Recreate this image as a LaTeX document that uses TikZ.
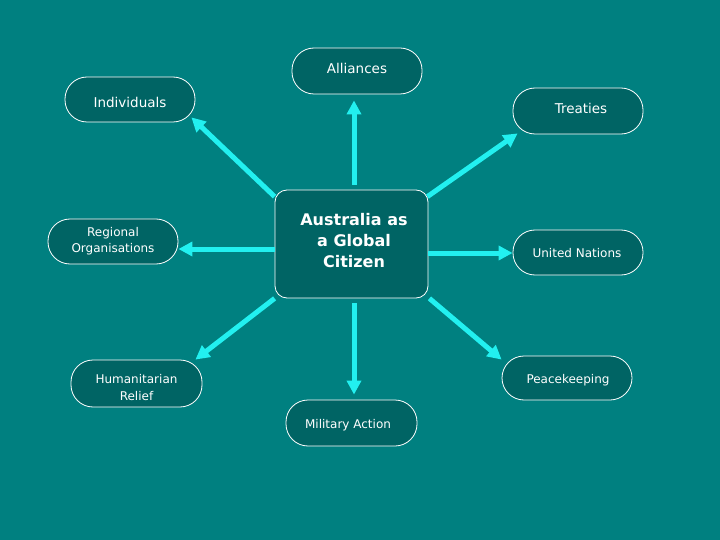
\documentclass[tikz,border=0pt]{standalone}
\usepackage{fontspec}
\setmainfont{DejaVu Sans}
\usetikzlibrary{arrows.meta,calc}
\definecolor{bgteal}{HTML}{008080}
\definecolor{boxteal}{HTML}{006464}
\definecolor{arrcyan}{HTML}{22F0F0}
\tikzset{
  pill/.style={draw=white, line width=0.8pt, fill=boxteal, rounded corners=22pt,
    minimum width=130pt, minimum height=45pt, inner sep=0pt},
  hub/.style={draw=white, line width=0.8pt, fill=boxteal, rounded corners=12pt,
    minimum width=153pt, minimum height=108pt, inner sep=0pt},
  txt/.style={text=white, align=center, inner sep=0pt},
  hubtxt/.style={txt, font=\fontsize{16}{21}\selectfont\bfseries},
  arr/.style={draw=arrcyan, line width=5pt, -{Triangle[length=14pt,width=14pt]}},
  big/.style={font=\fontsize{13.5}{16}\selectfont},
  mid/.style={font=\fontsize{12}{16}\selectfont},
}
\begin{document}
\begin{tikzpicture}[x=1pt,y=-1pt]
\useasboundingbox (0,0) rectangle (720,540);
\fill[bgteal] (0,0) rectangle (720,540);

\node[hub] (cen) at (351.5,244) {};
\node[pill,minimum height=46pt] (all) at (357,71) {};
\node[pill] (ind) at (130,99.5) {};
\node[pill,minimum height=46pt] (tre) at (578,111) {};
\node[pill] (reg) at (113,241.5) {};
\node[pill] (un) at (578,252.5) {};
\node[pill,minimum width=131pt,minimum height=47pt] (hum) at (136.5,383.5) {};
\node[pill,minimum height=44pt] (pea) at (567,378) {};
\node[pill,minimum width=131pt,minimum height=46pt] (mil) at (351.5,423) {};

\node[hubtxt] (cen-t) at (354,240.5) {Australia as\\a Global\\Citizen};
\node[txt,big] (all-t) at (357,68) {Alliances};
\node[txt,big] (ind-t) at (130,102.5) {Individuals};
\node[txt,big] (tre-t) at (581,108) {Treaties};
\node[txt,mid] (reg-t) at (113,241.5) {Regional\\Organisations};
\node[txt,mid] (un-t) at (577,253.5) {United Nations};
\node[txt,font=\fontsize{12}{17}\selectfont] (hum-t) at (136.5,387.5) {Humanitarian\\Relief};
\node[txt,mid] (pea-t) at (568,380) {Peacekeeping};
\node[txt,mid] (mil-t) at (348,425) {Military Action};

\draw[arr] ($(cen.north)+(2.5,-5)$) -- ($(all.south)+(-3,6)$);
\draw[arr] ($(cen.north west)+(0,7)$) -- ($(ind.south east)+(-4,-5)$);
\draw[arr] ($(cen.north east)+(-1,7)$) -- ($(tre.south west)+(5,-1)$);
\draw[arr] ($(cen.west)+(0,5)$) -- ($(reg.east)+(0,7.5)$);
\draw[arr] ($(cen.east)+(0,9)$) -- ($(un.west)+(0,0.5)$);
\draw[arr] ($(cen.south west)+(0,0)$) -- ($(hum.north east)+(-7,0)$);
\draw[arr] ($(cen.south)+(2.5,5)$) -- ($(mil.north)+(2.5,-5)$);
\draw[arr] ($(cen.south east)+(1,0)$) -- ($(pea.north west)+(0,4)$);
\end{tikzpicture}
\end{document}
